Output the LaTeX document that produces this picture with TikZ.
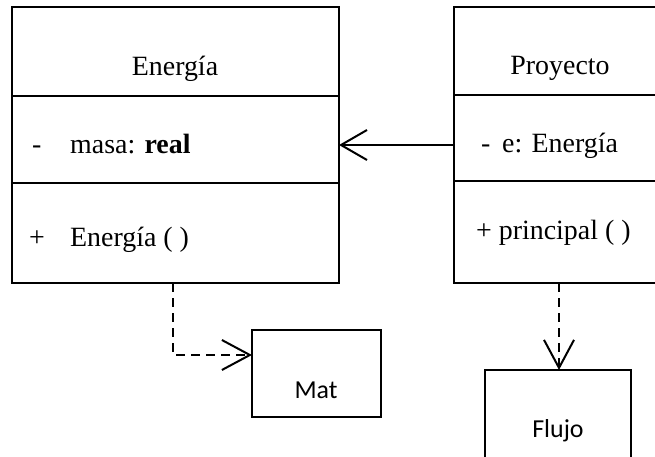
\documentclass[tikz,border=0pt]{standalone}
\usepackage{fontspec}
\setmainfont{Liberation Serif}
\newfontfamily\calib{Carlito}
\usetikzlibrary{arrows.meta}
\begin{document}
\begin{tikzpicture}[x=1bp,y=-1bp,
  comp/.style={draw, line width=2bp, inner sep=0pt, outer sep=0pt},
  txt/.style={inner sep=0pt, anchor=base west, font=\fontsize{28}{32}\selectfont},
  ctxt/.style={inner sep=0pt, anchor=base, font=\fontsize{28}{32}\selectfont},
  stxt/.style={inner sep=0pt, anchor=base, font=\calib\fontsize{26}{30}\selectfont},
  assoc/.style={line width=2bp, -{Straight Barb[length=26bp,width=30bp,line width=2bp]}},
  dep/.style={line width=2bp, dash pattern=on 9bp off 6bp, -{Straight Barb[length=28bp,width=30bp,line width=2bp,sep=0pt]}}
]
\useasboundingbox (0,0) rectangle (655,457);
\clip (0,0) rectangle (655,457);
\fill[white] (0,0) rectangle (655,457);
% Energia class
\node[comp, minimum width=327bp, minimum height=89bp] (Eh) at (175.5,51.5) {};
\node[comp, minimum width=327bp, minimum height=87bp] (Ea) at (175.5,139.5) {};
\node[comp, minimum width=327bp, minimum height=100bp] (Eo) at (175.5,233) {};
\node[ctxt] (EhT) at (175,76) {Energía};
\node[txt] (EaD) at (32,154) {-};
\node[txt] (EaT) at (70,154) {masa: \textbf{real}};
\node[txt] (EoP) at (29,247) {+};
\node[txt] (EoT) at (70,247) {Energía ( )};
% Proyecto class
\node[comp, minimum width=250bp, minimum height=88bp] (Ph) at (579,51) {};
\node[comp, minimum width=250bp, minimum height=86bp] (Pa) at (579,138) {};
\node[comp, minimum width=250bp, minimum height=102bp] (Po) at (579,232) {};
\node[ctxt] (PhT) at (560,75) {Proyecto};
\node[txt] (PaD) at (481,153) {-};
\node[txt] (PaT) at (502,153) {e: Energía};
\node[txt] (PoT) at (476,240) {+ principal ( )};
% Mat and Flujo
\node[comp, minimum width=129bp, minimum height=87bp] (M) at (316.5,373.5) {};
\node[stxt] (MT) at (316,398) {Mat};
\node[comp, minimum width=146bp, minimum height=120bp] (F) at (558,430) {};
\node[stxt] (FT) at (558,437) {Flujo};
% connectors
\coordinate (ay) at (0,145);
\draw[assoc] (Pa.west |- ay) -- (Ea.east |- ay);
\coordinate (ex) at (173,0);
\draw[dep] (Eo.south -| ex) |- (M.west |- 0,355);
\coordinate (px) at (559,0);
\draw[dep] (Po.south -| px) -- (F.north -| px);
\end{tikzpicture}
\end{document}
